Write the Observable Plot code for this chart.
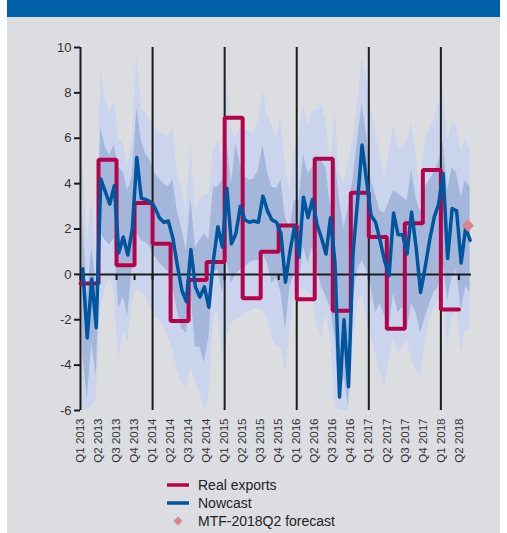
<!DOCTYPE html>
<html>
<head>
<meta charset="utf-8">
<script src="https://cdn.jsdelivr.net/npm/d3@7"></script>
<script src="https://cdn.jsdelivr.net/npm/@observablehq/plot@0.6"></script>
<style>
  html, body { margin: 0; padding: 0; background: #fff; }
  #panel { position: absolute; left: 7px; top: 0; width: 493px; height: 533px; background: #dcdde0; }
  #bar { position: absolute; left: 7px; top: 0; width: 493px; height: 17px; background: #0061a8; }
  #chart { position: absolute; left: 0; top: 30px; }
  #legend { position: absolute; left: 160px; top: 476px; font: 14px "Liberation Sans", Arial, sans-serif; color: #222; }
  #legend .row { height: 18px; display: flex; align-items: center; }
  #legend svg { flex: none; }
</style>
</head>
<body>
<div id="panel"></div>
<div id="bar"></div>
<div id="chart"></div>
<div id="legend"></div>
<script>
// Quarter labels along the time axis (one per quarter, Q1 2013 .. Q2 2018)
const quarterLabels = [
  "Q1 2013", "Q2 2013", "Q3 2013", "Q4 2013",
  "Q1 2014", "Q2 2014", "Q3 2014", "Q4 2014",
  "Q1 2015", "Q2 2015", "Q3 2015", "Q4 2015",
  "Q1 2016", "Q2 2016", "Q3 2016", "Q4 2016",
  "Q1 2017", "Q2 2017", "Q3 2017", "Q4 2017",
  "Q1 2018", "Q2 2018"
];

// Real exports growth, one value per quarter (Q1 2013 .. Q1 2018)
const realExports = [
  -0.4, 5.05, 0.4, 3.15,
  1.35, -2.05, -0.25, 0.55,
  6.9, -1.05, 1.0, 2.15,
  -1.1, 5.1, -1.6, 3.6,
  1.65, -2.4, 2.25, 4.6,
  -1.55
];

// Nowcast readings, four per quarter starting in Q1 2013
const nowcast = [
  0.25, -2.8, -0.2, -2.35, 4.2, 3.65, 3.1, 3.9, 0.95, 1.65,
  0.85, 2.0, 5.15, 3.35, 3.3, 3.2, 2.95, 2.5, 2.3, 2.35,
  1.6, 0.4, -0.7, -1.2, 1.1, -0.55, -1.0, -0.55, -1.45, 0.6,
  2.1, 1.2, 3.8, 1.35, 1.8, 3.0, 2.4, 2.3, 2.35, 2.3,
  3.45, 2.8, 2.4, 2.3, 1.8, -0.35, 1.0, 2.1, 0.75, 3.4,
  2.5, 3.3, 2.2, 1.6, 0.9, 2.5, 0.5, -5.4, -2.0, -4.95,
  0.9, 3.2, 5.7, 4.15, 2.6, 2.3, 1.5, 0.6, -0.05, 2.7,
  1.75, 1.75, 0.9, 2.75, 1.2, -0.8, 0.3, 1.5, 2.5, 3.1,
  4.45, 0.7, 2.9, 2.8, 0.5, 2.05, 1.5
];

// Wide uncertainty band around the nowcast (upper / lower)
const outerHigh = [
  5.0, 1.5, 3.4, 1.0, 9.0, 7.75, 7.1, 7.65, 6.0, 5.75,
  4.8, 5.9, 9.95, 7.35, 7.1, 6.8, 6.5, 6.3, 6.2, 6.0,
  6.5, 4.4, 3.8, 2.8, 5.9, 2.8, 3.3, 3.5, 3.55, 5.45,
  5.9, 5.0, 8.55, 6.35, 6.0, 6.5, 6.4, 6.3, 6.2, 6.8,
  8.2, 7.0, 6.6, 6.0, 7.0, 4.7, 3.7, 5.5, 6.0, 7.45,
  6.5, 7.2, 7.2, 7.5, 6.8, 4.7, 7.35, 4.45, 4.0, 5.0,
  5.9, 7.5, 9.55, 8.7, 7.35, 6.2, 5.3, 4.25, 5.3, 6.6,
  5.6, 5.6, 5.9, 6.7, 5.3, 3.7, 5.9, 6.5, 6.8, 7.5,
  8.2, 5.9, 6.7, 6.55, 5.45, 6.0, 5.45
];
const outerLow = [
  -6.0, -6.0, -5.8, -5.5, -1.5, -0.6, -0.2, -0.8, -3.9, -2.5,
  -3.0, -1.2, -0.7, -0.8, -1.0, -1.5, -1.9, -2.0, -2.3, -2.8,
  -3.4, -4.2, -4.8, -5.0, -4.1, -4.8, -5.2, -6.0, -5.5, -2.0,
  -1.6, -3.8, -2.8, -2.15, -2.0, -1.9, -1.7, -1.65, -1.5, -1.5,
  -1.6, -1.9, -2.8, -3.2, -3.2, -4.35, -2.5, -0.8, -0.85, -0.6,
  -0.8, -1.0, -2.2, -2.9, -1.7, -2.8, -5.85, -6.0, -6.0, -6.0,
  -3.2, -1.3, -0.85, -2.0, -2.8, -3.5, -4.3, -5.0, -3.8, -2.8,
  -3.5, -3.2, -2.9, -3.8, -4.2, -4.65, -2.9, -2.0, -1.5, -1.15,
  -0.7, -3.2, -2.0, -1.45, -3.5, -2.45, -2.45
];

// Narrow uncertainty band around the nowcast (upper / lower)
const innerHigh = [
  2.5, -1.0, 1.2, -0.5, 6.5, 5.6, 5.25, 5.7, 4.7, 4.5,
  3.7, 4.3, 7.35, 5.9, 5.3, 5.0, 4.45, 4.2, 4.0, 3.85,
  4.15, 2.8, 2.0, 1.0, 3.4, 1.2, 1.5, 1.8, 1.5, 3.85,
  3.85, 4.15, 5.9, 4.0, 5.75, 4.8, 4.3, 4.15, 4.2, 4.6,
  5.7, 4.5, 3.85, 3.8, 4.15, 2.5, 2.05, 3.25, 3.25, 5.3,
  4.45, 4.7, 5.15, 5.0, 4.7, 2.95, 5.15, 3.25, 2.0, 3.0,
  4.15, 5.9, 7.5, 6.2, 4.15, 3.5, 2.8, 2.7, 3.2, 3.7,
  3.55, 3.4, 3.25, 4.6, 3.4, 2.7, 3.85, 4.15, 4.5, 4.9,
  5.9, 3.7, 4.7, 4.45, 3.4, 4.15, 3.85
];
const innerLow = [
  -3.5, -5.5, -3.0, -4.5, 1.8, 1.5, 1.3, 1.6, -1.5, -1.0,
  -1.8, 0.3, 1.8, 1.5, 1.4, 1.2, 0.8, 0.5, 0.3, 0.1,
  -0.6, -1.6, -2.4, -2.6, -0.8, -3.2, -3.2, -3.9, -2.8, 0.05,
  0.2, -0.85, 0.6, -0.4, 0.0, 0.2, 0.3, 0.5, 0.6, 0.6,
  0.9, 0.5, -0.4, -0.15, -0.8, -2.45, -0.55, 0.05, -0.55, 1.2,
  0.5, 1.2, 0.2, -0.55, -1.0, -1.45, -2.8, -5.6, -4.5, -5.8,
  -1.3, 0.2, 0.6, 0.2, -0.55, -1.7, -1.3, -1.8, -2.35, -0.85,
  -1.7, -1.45, -2.45, -1.3, -1.7, -2.6, -1.9, -1.3, -0.8, -0.55,
  0.5, -1.15, -0.15, 0.2, -1.6, -0.55, -0.8
];

// MTF forecast for Q2 2018
const forecastQuarter = ["Q2 2018"];
const forecastValue = [2.15];

const yTicks = [-6, -4, -2, 0, 2, 4, 6, 8, 10];
const xMax = 21.7; // time axis end, in quarters since Q1 2013

// Tables for the marks: time measured in quarters since Q1 2013
const nowRows = nowcast.map((v, i) => ({
  t: (i + 0.5) / 4, v,
  hi90: outerHigh[i], lo90: outerLow[i],
  hi: innerHigh[i], lo: innerLow[i]
}));
const realRows = realExports.flatMap((v, q) => [{t: q, v}, {t: q + 1, v}]);
const forecastRows = forecastQuarter.map((q, i) => ({t: quarterLabels.indexOf(q) + 0.5, v: forecastValue[i]}));
const quarterStarts = d3.range(quarterLabels.length);
const yearStarts = quarterStarts.filter(q => quarterLabels[q].startsWith("Q1"));

const colors = {
  real: "#b6024b",
  nowcast: "#00569e",
  forecast: "#d8858f",
  outer: "#cad5ed",
  inner: "#a5b6db",
  ink: "#1c1c1c",
  text: "#333"
};

const chart = Plot.plot({
  width: 507,
  height: 440,
  marginLeft: 80,
  marginRight: 36,
  marginTop: 17,
  marginBottom: 60,
  x: {domain: [0, xMax], label: null},
  y: {domain: [-6, 10], label: null},
  style: {background: "transparent", fontFamily: "'Liberation Sans', Arial, sans-serif", overflow: "visible"},
  marks: [
    Plot.areaY(nowRows, {x: "t", y1: "lo90", y2: "hi90", fill: colors.outer, clip: true}),
    Plot.areaY(nowRows, {x: "t", y1: "lo", y2: "hi", fill: colors.inner, clip: true}),
    Plot.ruleX(yearStarts, {y1: -6, y2: 10, stroke: colors.ink, strokeWidth: 2}),
    Plot.ruleY([0], {x1: 0, x2: xMax, stroke: colors.ink, strokeWidth: 2}),
    Plot.ruleX(quarterStarts, {y1: 0, y2: -0.27, stroke: colors.ink, strokeWidth: 2}),
    Plot.line(realRows, {x: "t", y: "v", stroke: colors.real, strokeWidth: 4, strokeLinejoin: "miter"}),
    Plot.line(nowRows, {x: "t", y: "v", stroke: colors.nowcast, strokeWidth: 3.5}),
    Plot.dot(forecastRows, {x: "t", y: "v", symbol: "diamond2", r: 5.5, fill: colors.forecast}),
    Plot.axisY({ticks: yTicks, tickFormat: d => String(d), tickSize: 6, tickPadding: 3, label: null,
      fontSize: 13, stroke: colors.ink, strokeWidth: 2, fill: colors.text}),
    Plot.axisX({ticks: quarterStarts, tickFormat: q => quarterLabels[q], tickRotate: -90, label: null,
      tickSize: 0, tickPadding: 8, fontSize: 11.5, fill: colors.text})
  ]
});
document.getElementById("chart").appendChild(chart);

// Legend below the chart
const legendItems = [
  {label: "Real exports", kind: "line", color: colors.real},
  {label: "Nowcast", kind: "line", color: colors.nowcast},
  {label: "MTF-2018Q2 forecast", kind: "diamond", color: colors.forecast}
];
const legend = document.getElementById("legend");
for (const item of legendItems) {
  const row = document.createElement("div");
  row.className = "row";
  const sw = item.kind === "line"
    ? `<svg width="38" height="18"><line x1="7" x2="29" y1="9" y2="9" stroke="${item.color}" stroke-width="3.5"/></svg>`
    : `<svg width="38" height="18"><path d="M18 4.5 L22.5 9 L18 13.5 L13.5 9 Z" fill="${item.color}"/></svg>`;
  row.innerHTML = sw + `<span>${item.label}</span>`;
  legend.appendChild(row);
}
</script>
</body>
</html>
